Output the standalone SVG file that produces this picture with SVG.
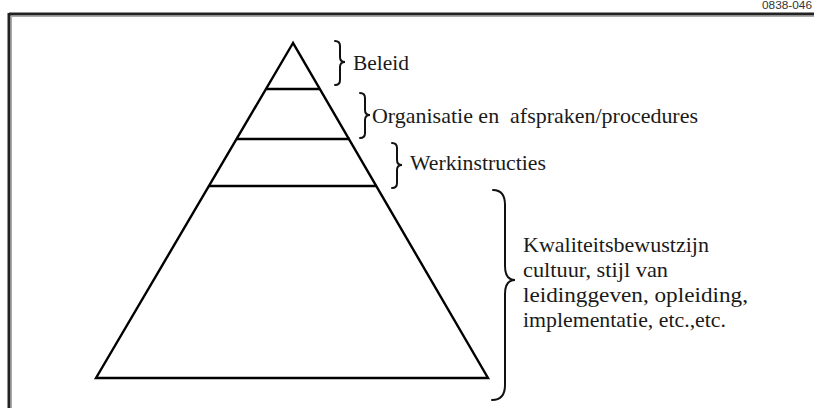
<svg xmlns="http://www.w3.org/2000/svg" width="814" height="408" viewBox="0 0 814 408">
<style>
.ln{stroke:#000;stroke-width:2.4;fill:none;stroke-linejoin:miter}
.br{stroke:#111;stroke-width:2;fill:none;stroke-linecap:round}
.id{font-family:'Liberation Sans','DejaVu Sans',sans-serif;font-size:10px;fill:#333}
.t{font-family:'Liberation Serif','Times New Roman',serif;font-size:21px;fill:#1a1a1a}
</style>
<rect width="814" height="408" fill="#fff"/>
<g id="frame">
<line x1="9" y1="14" x2="814" y2="14" stroke="#222" stroke-width="3"/>
<line x1="9" y1="13" x2="9" y2="408" stroke="#222" stroke-width="3"/>
<line x1="11" y1="16.5" x2="814" y2="16.5" stroke="#aaa" stroke-width="1"/>
<line x1="11.5" y1="16" x2="11.5" y2="408" stroke="#aaa" stroke-width="1"/>
<text class="id" x="762" y="8.5" textLength="50" lengthAdjust="spacingAndGlyphs">0838-046</text>
</g>
<g id="pyramid">
<path class="ln" d="M293,43 L96,378 L488,378 Z"/>
<line class="ln" x1="266" y1="89" x2="320" y2="89"/>
<line class="ln" x1="237" y1="139" x2="350" y2="139"/>
<line class="ln" x1="209" y1="186" x2="377" y2="186"/>
</g>
<g id="connectors">
<path class="br" d="M335,41 Q340,41 340,46 L340,57 Q340,62 345,62 Q340,62 340,67 L340,80 Q340,85 335,85"/>
<path class="br" d="M360,93 Q365,93 365,98 L365,110 Q365,115 370,115 Q365,115 365,120 L365,133 Q365,138 360,138"/>
<path class="br" d="M392,143 Q397,143 397,148 L397,160 Q397,165 402,165 Q397,165 397,170 L397,183 Q397,188 392,188"/>
<path class="br" d="M493,190 Q505,190 505,205 L505,266 Q505,280 515,280 Q505,280 505,294 L505,385 Q505,400 492,400"/>
</g>
<g id="beleid"><text class="t" x="353" y="70" textLength="56" lengthAdjust="spacingAndGlyphs">Beleid</text></g>
<g id="organisatie"><text class="t" x="372" y="123" textLength="326" lengthAdjust="spacingAndGlyphs" xml:space="preserve">Organisatie en  afspraken/procedures</text></g>
<g id="werkinstructies"><text class="t" x="410" y="170" textLength="136" lengthAdjust="spacingAndGlyphs">Werkinstructies</text></g>
<g id="kwaliteit">
<text class="t" x="523" y="252" textLength="186" lengthAdjust="spacingAndGlyphs">Kwaliteitsbewustzijn</text>
<text class="t" x="523" y="277" textLength="145" lengthAdjust="spacingAndGlyphs">cultuur, stijl van</text>
<text class="t" x="523" y="302" textLength="225" lengthAdjust="spacingAndGlyphs">leidinggeven, opleiding,</text>
<text class="t" x="523" y="327" textLength="203" lengthAdjust="spacingAndGlyphs">implementatie, etc.,etc.</text>
</g>
</svg>
